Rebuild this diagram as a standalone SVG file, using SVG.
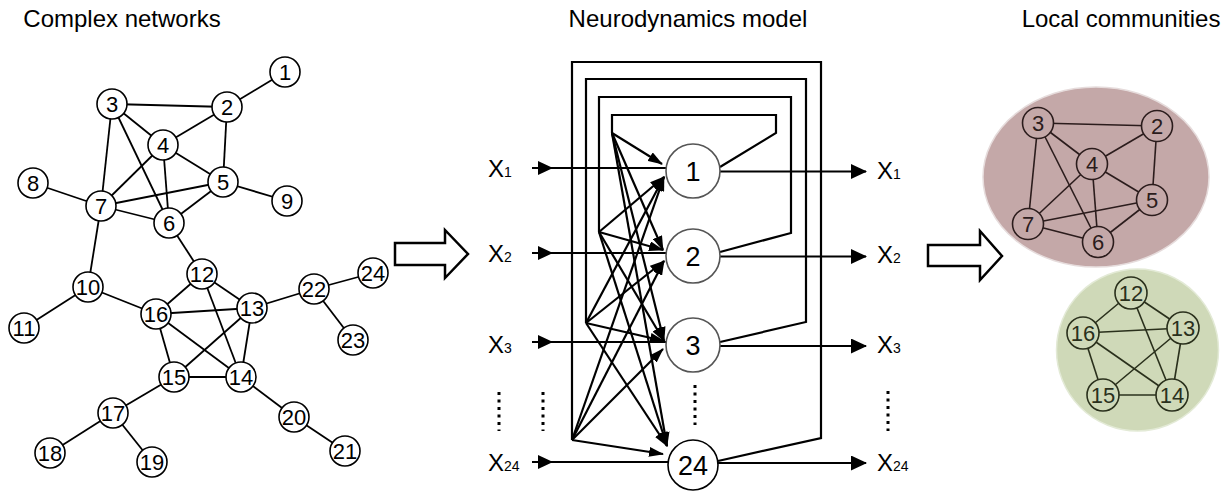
<svg xmlns="http://www.w3.org/2000/svg" width="1231" height="493" viewBox="0 0 1231 493">
<style>
.t{font-family:"Liberation Sans",Arial,sans-serif;fill:#000}
.title{font-size:24px;text-anchor:middle}
.ln{font-size:22px;text-anchor:middle}
.e{stroke:#000;stroke-width:1.8;fill:none}
.nc{fill:#fff;stroke:#000;stroke-width:1.6}
.w{stroke:#000;stroke-width:2.2;fill:none}
.mn{fill:#fff;stroke:#555;stroke-width:1.6}
.mt{font-size:27px;text-anchor:middle}
.xl{font-size:24px}
.xs{font-size:14px}
.dot{stroke:#000;stroke-width:3;stroke-dasharray:3 4.5;fill:none}
.ha{fill:#fff;stroke:#000;stroke-width:2.5;stroke-linejoin:miter}
.pe{stroke:#2b1c1c;stroke-width:1.6;fill:none}
.pn{fill:#c4a8a8;stroke:#2b1c1c;stroke-width:1.6}
.ge{stroke:#2a301c;stroke-width:1.6;fill:none}
.gn{fill:#cfd9b8;stroke:#2a301c;stroke-width:1.6}
.rt{font-size:22px;text-anchor:middle;font-family:"Liberation Sans",Arial,sans-serif}
</style>
<defs>
<marker id="ah" markerWidth="15" markerHeight="10" refX="14" refY="5" orient="auto" markerUnits="userSpaceOnUse"><path d="M0,0 L15,5 L0,10 z" fill="#000"/></marker>
<marker id="ao" markerWidth="16" markerHeight="15" refX="15" refY="7.5" orient="auto" markerUnits="userSpaceOnUse"><path d="M0,0 L16,7.5 L0,15 z" fill="#000"/></marker>
</defs>
<rect width="1231" height="493" fill="#fff"/>

<g id="titles">
<text class="t title" x="122" y="27">Complex networks</text>
<text class="t title" x="688" y="27">Neurodynamics model</text>
<text class="t title" x="1121" y="27">Local communities</text>
</g>

<!-- Left network connectors -->
<g id="left-connectors" class="e">
<line x1="285" y1="72" x2="227" y2="107"/>
<line x1="227" y1="107" x2="112" y2="104"/>
<line x1="227" y1="107" x2="163" y2="145"/>
<line x1="227" y1="107" x2="223" y2="182"/>
<line x1="112" y1="104" x2="163" y2="145"/>
<line x1="112" y1="104" x2="101" y2="206"/>
<line x1="112" y1="104" x2="169" y2="223"/>
<line x1="163" y1="145" x2="223" y2="182"/>
<line x1="163" y1="145" x2="101" y2="206"/>
<line x1="163" y1="145" x2="169" y2="223"/>
<line x1="223" y1="182" x2="101" y2="206"/>
<line x1="223" y1="182" x2="169" y2="223"/>
<line x1="223" y1="182" x2="287" y2="201"/>
<line x1="101" y1="206" x2="33" y2="183"/>
<line x1="101" y1="206" x2="169" y2="223"/>
<line x1="101" y1="206" x2="88" y2="287"/>
<line x1="169" y1="223" x2="202" y2="274"/>
<line x1="88" y1="287" x2="24" y2="328"/>
<line x1="88" y1="287" x2="156" y2="314"/>
<line x1="202" y1="274" x2="156" y2="314"/>
<line x1="202" y1="274" x2="252" y2="308"/>
<line x1="202" y1="274" x2="241" y2="377"/>
<line x1="156" y1="314" x2="252" y2="308"/>
<line x1="156" y1="314" x2="174" y2="377"/>
<line x1="156" y1="314" x2="241" y2="377"/>
<line x1="252" y1="308" x2="174" y2="377"/>
<line x1="252" y1="308" x2="241" y2="377"/>
<line x1="252" y1="308" x2="314" y2="289"/>
<line x1="174" y1="377" x2="241" y2="377"/>
<line x1="174" y1="377" x2="113" y2="413"/>
<line x1="241" y1="377" x2="294" y2="417"/>
<line x1="113" y1="413" x2="50" y2="453"/>
<line x1="113" y1="413" x2="152" y2="462"/>
<line x1="294" y1="417" x2="345" y2="451"/>
<line x1="314" y1="289" x2="373" y2="273"/>
<line x1="314" y1="289" x2="353" y2="340"/>
</g>

<g id="L1"><circle class="nc" cx="285" cy="72" r="15"/><text class="t ln" x="285" y="80">1</text></g>
<g id="L2"><circle class="nc" cx="227" cy="107" r="15"/><text class="t ln" x="227" y="115">2</text></g>
<g id="L3"><circle class="nc" cx="112" cy="104" r="15"/><text class="t ln" x="112" y="112">3</text></g>
<g id="L4"><circle class="nc" cx="163" cy="145" r="15"/><text class="t ln" x="163" y="153">4</text></g>
<g id="L5"><circle class="nc" cx="223" cy="182" r="15"/><text class="t ln" x="223" y="190">5</text></g>
<g id="L6"><circle class="nc" cx="169" cy="223" r="15"/><text class="t ln" x="169" y="231">6</text></g>
<g id="L7"><circle class="nc" cx="101" cy="206" r="15"/><text class="t ln" x="101" y="214">7</text></g>
<g id="L8"><circle class="nc" cx="33" cy="183" r="15"/><text class="t ln" x="33" y="191">8</text></g>
<g id="L9"><circle class="nc" cx="287" cy="201" r="15"/><text class="t ln" x="287" y="209">9</text></g>
<g id="L10"><circle class="nc" cx="88" cy="287" r="15"/><text class="t ln" x="88" y="295">10</text></g>
<g id="L11"><circle class="nc" cx="24" cy="328" r="15"/><text class="t ln" x="24" y="336">11</text></g>
<g id="L12"><circle class="nc" cx="202" cy="274" r="15"/><text class="t ln" x="202" y="282">12</text></g>
<g id="L13"><circle class="nc" cx="252" cy="308" r="15"/><text class="t ln" x="252" y="316">13</text></g>
<g id="L14"><circle class="nc" cx="241" cy="377" r="15"/><text class="t ln" x="241" y="385">14</text></g>
<g id="L15"><circle class="nc" cx="174" cy="377" r="15"/><text class="t ln" x="174" y="385">15</text></g>
<g id="L16"><circle class="nc" cx="156" cy="314" r="15"/><text class="t ln" x="156" y="322">16</text></g>
<g id="L17"><circle class="nc" cx="113" cy="413" r="15"/><text class="t ln" x="113" y="421">17</text></g>
<g id="L18"><circle class="nc" cx="50" cy="453" r="15"/><text class="t ln" x="50" y="461">18</text></g>
<g id="L19"><circle class="nc" cx="152" cy="462" r="15"/><text class="t ln" x="152" y="470">19</text></g>
<g id="L20"><circle class="nc" cx="294" cy="417" r="15"/><text class="t ln" x="294" y="425">20</text></g>
<g id="L21"><circle class="nc" cx="345" cy="451" r="15"/><text class="t ln" x="345" y="459">21</text></g>
<g id="L22"><circle class="nc" cx="314" cy="289" r="15"/><text class="t ln" x="314" y="297">22</text></g>
<g id="L23"><circle class="nc" cx="353" cy="340" r="15"/><text class="t ln" x="353" y="348">23</text></g>
<g id="L24"><circle class="nc" cx="373" cy="273" r="15"/><text class="t ln" x="373" y="281">24</text></g>

<!-- Big hollow arrows -->
<g id="arrow-a"><polygon class="ha" points="395,243 445,243 445,230 468,254 445,278 445,265 395,265"/></g>
<g id="arrow-b"><polygon class="ha" points="928,245 980,245 980,231 1002,256 980,280 980,266 928,266"/></g>

<!-- Neurodynamics model connectors -->
<g id="model-connectors">
<g class="w">
<polyline points="720,167 776,133 776,115 612,115 612,133"/>
<polyline points="720,252 791,233 791,97 599,97 599,232"/>
<polyline points="720,342 806,322 806,79 586,79 586,323"/>
<polyline points="718,461 821,438 821,62 572,62 572,440"/>
<line x1="532" y1="168" x2="666" y2="168"/>
<line x1="532" y1="253" x2="666" y2="253"/>
<line x1="532" y1="342" x2="666" y2="342"/>
<line x1="532" y1="462" x2="668" y2="462"/>
<line x1="720" y1="171.5" x2="866" y2="171.5" marker-end="url(#ao)"/>
<line x1="720" y1="256.5" x2="866" y2="256.5" marker-end="url(#ao)"/>
<line x1="720" y1="346" x2="866" y2="346" marker-end="url(#ao)"/>
<line x1="718" y1="463" x2="866" y2="463" marker-end="url(#ao)"/>
</g>
<g fill="#000">
<polygon points="538,161 553,168 538,175"/>
<polygon points="538,246 553,253 538,260"/>
<polygon points="538,335 553,342 538,349"/>
<polygon points="538,455 553,462 538,469"/>
</g>
<g class="w" stroke-width="2" marker-end="url(#ah)">
<line x1="612" y1="133" x2="662" y2="164"/>
<line x1="612" y1="133" x2="663" y2="250"/>
<line x1="612" y1="133" x2="664" y2="341"/>
<line x1="612" y1="133" x2="667" y2="446"/>
<line x1="599" y1="232" x2="664" y2="177"/>
<line x1="599" y1="232" x2="663" y2="250"/>
<line x1="599" y1="232" x2="664" y2="341"/>
<line x1="599" y1="232" x2="667" y2="446"/>
<line x1="586" y1="323" x2="664" y2="177"/>
<line x1="586" y1="323" x2="664" y2="261"/>
<line x1="586" y1="323" x2="664" y2="341"/>
<line x1="586" y1="323" x2="667" y2="446"/>
<line x1="572" y1="440" x2="664" y2="177"/>
<line x1="572" y1="440" x2="664" y2="261"/>
<line x1="572" y1="440" x2="663" y2="349"/>
<line x1="572" y1="440" x2="663" y2="454"/>
</g>
<g>
<path class="dot" d="M499,392 V431"/>
<path class="dot" d="M543,392 V431"/>
<path class="dot" d="M695,385 V425"/>
<path class="dot" d="M888,391 V431"/>
</g>
</g>

<g id="M1"><circle class="mn" cx="693" cy="171" r="27"/><text class="t mt" x="693" y="180.5">1</text></g>
<g id="M2"><circle class="mn" cx="693" cy="256" r="27"/><text class="t mt" x="693" y="265.5">2</text></g>
<g id="M3"><circle class="mn" cx="693" cy="345" r="27"/><text class="t mt" x="693" y="354.5">3</text></g>
<g id="M24"><circle class="nc" stroke-width="2" cx="693" cy="465" r="25"/><text class="t mt" x="693" y="474.5">24</text></g>

<g id="inputs">
<text class="t" x="488" y="176.5"><tspan class="xl">X</tspan><tspan class="xs" dx="0">1</tspan></text>
<text class="t" x="488" y="261.5"><tspan class="xl">X</tspan><tspan class="xs" dx="0">2</tspan></text>
<text class="t" x="488" y="352.5"><tspan class="xl">X</tspan><tspan class="xs" dx="0">3</tspan></text>
<text class="t" x="488" y="470.5"><tspan class="xl">X</tspan><tspan class="xs" dx="0">24</tspan></text>
</g>
<g id="outputs">
<text class="t" x="877" y="178.5"><tspan class="xl">X</tspan><tspan class="xs" dx="0">1</tspan></text>
<text class="t" x="877" y="263"><tspan class="xl">X</tspan><tspan class="xs" dx="0">2</tspan></text>
<text class="t" x="877" y="352.5"><tspan class="xl">X</tspan><tspan class="xs" dx="0">3</tspan></text>
<text class="t" x="877" y="470.5"><tspan class="xl">X</tspan><tspan class="xs" dx="0">24</tspan></text>
</g>

<!-- Local communities -->
<g id="community-pink">
<ellipse cx="1096" cy="177" rx="113" ry="90" fill="#c4a8a8" stroke="#e6dcdc" stroke-width="1.5"/>
<g class="pe">
<line x1="1038" y1="123" x2="1157" y2="126"/>
<line x1="1038" y1="123" x2="1092" y2="164"/>
<line x1="1038" y1="123" x2="1028" y2="224"/>
<line x1="1038" y1="123" x2="1098" y2="242"/>
<line x1="1157" y1="126" x2="1092" y2="164"/>
<line x1="1157" y1="126" x2="1152" y2="200"/>
<line x1="1092" y1="164" x2="1152" y2="200"/>
<line x1="1092" y1="164" x2="1028" y2="224"/>
<line x1="1092" y1="164" x2="1098" y2="242"/>
<line x1="1028" y1="224" x2="1152" y2="200"/>
<line x1="1028" y1="224" x2="1098" y2="242"/>
<line x1="1098" y1="242" x2="1152" y2="200"/>
</g>
</g>
<g id="P3"><circle class="pn" cx="1038" cy="123" r="15.5"/><text class="rt" fill="#2b1c1c" x="1038" y="131">3</text></g>
<g id="P2"><circle class="pn" cx="1157" cy="126" r="15.5"/><text class="rt" fill="#2b1c1c" x="1157" y="134">2</text></g>
<g id="P4"><circle class="pn" cx="1092" cy="164" r="15.5"/><text class="rt" fill="#2b1c1c" x="1092" y="172">4</text></g>
<g id="P5"><circle class="pn" cx="1152" cy="200" r="15.5"/><text class="rt" fill="#2b1c1c" x="1152" y="208">5</text></g>
<g id="P7"><circle class="pn" cx="1028" cy="224" r="15.5"/><text class="rt" fill="#2b1c1c" x="1028" y="232">7</text></g>
<g id="P6"><circle class="pn" cx="1098" cy="242" r="15.5"/><text class="rt" fill="#2b1c1c" x="1098" y="250">6</text></g>

<g id="community-green">
<circle cx="1137.5" cy="350" r="81" fill="#cfd9b8" stroke="#e3ead6" stroke-width="1.5"/>
<g class="ge">
<line x1="1131" y1="293" x2="1083" y2="333"/>
<line x1="1131" y1="293" x2="1183" y2="328"/>
<line x1="1131" y1="293" x2="1172" y2="395"/>
<line x1="1083" y1="333" x2="1183" y2="328"/>
<line x1="1083" y1="333" x2="1103" y2="395"/>
<line x1="1083" y1="333" x2="1172" y2="395"/>
<line x1="1183" y1="328" x2="1103" y2="395"/>
<line x1="1183" y1="328" x2="1172" y2="395"/>
<line x1="1103" y1="395" x2="1172" y2="395"/>
</g>
</g>
<g id="G12"><circle class="gn" cx="1131" cy="293" r="16"/><text class="rt" fill="#2a301c" x="1131" y="301">12</text></g>
<g id="G13"><circle class="gn" cx="1183" cy="328" r="16"/><text class="rt" fill="#2a301c" x="1183" y="336">13</text></g>
<g id="G16"><circle class="gn" cx="1083" cy="333" r="16"/><text class="rt" fill="#2a301c" x="1083" y="341">16</text></g>
<g id="G15"><circle class="gn" cx="1103" cy="395" r="16"/><text class="rt" fill="#2a301c" x="1103" y="403">15</text></g>
<g id="G14"><circle class="gn" cx="1172" cy="395" r="16"/><text class="rt" fill="#2a301c" x="1172" y="403">14</text></g>
</svg>
